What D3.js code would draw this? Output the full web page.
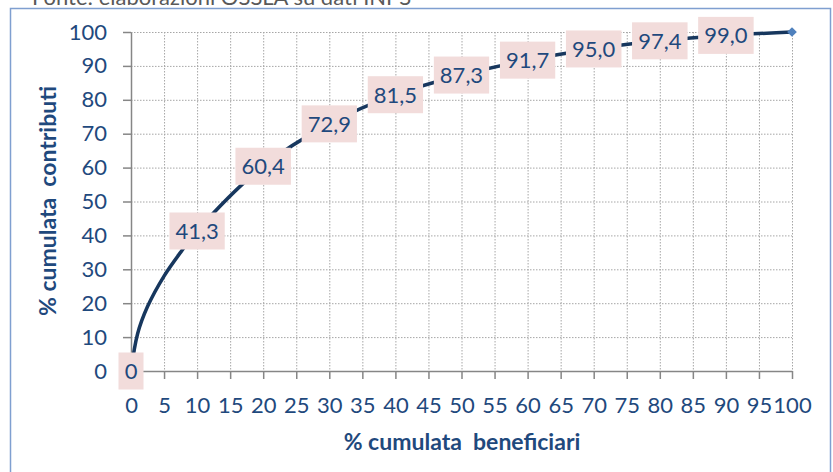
<!DOCTYPE html>
<html>
<head>
<meta charset="utf-8">
<script src="https://cdn.jsdelivr.net/npm/d3@7"></script>
<style>
  body { margin: 0; background: #fff; }
  svg { display: block; font-family: Lato, "Open Sans", sans-serif; }
</style>
</head>
<body>
<div id="chart"></div>
<script>
// % cumulata beneficiari (x) and % cumulata contributi (y)
const beneficiari = [0, 1, 2.5, 5, 7.5, 10, 20, 30, 40, 50, 60, 70, 80, 90, 100];
const contributi = [0, 11, 19, 28, 35, 41.3, 60.4, 72.9, 81.5, 87.3, 91.7, 95.0, 97.4, 99.0, 100];
// points that carry a data label
const labelledX = [0, 10, 20, 30, 40, 50, 60, 70, 80, 90];
const xTicks = d3.range(0, 101, 5);
const yTicks = d3.range(0, 101, 10);

const width = 833, height = 472;
const textColor = "#1F497D";

const svg = d3.select("#chart").append("svg")
  .attr("width", width)
  .attr("height", height);

// outer frame
svg.append("rect")
  .attr("x", 10.5).attr("y", 8.5)
  .attr("width", 820).attr("height", 480)
  .attr("fill", "none")
  .attr("stroke", "#7f9fd0")
  .attr("stroke-width", 1.5);

// source line, cut by the top edge as in the original
svg.append("text")
  .attr("x", 32).attr("y", 5)
  .attr("fill", "#595959")
  .attr("font-size", 22)
  .text("Fonte: elaborazioni OSSLA su dati INPS");

const x = d3.scaleLinear().domain([0, 100]).range([131, 792]);
const y = d3.scaleLinear().domain([0, 100]).range([371, 32]);

// gridlines
const grid = svg.append("g")
  .attr("stroke", "#a6a6a6")
  .attr("stroke-width", 1)
  .attr("stroke-dasharray", "1.5,1.5");

grid.selectAll(".vgrid")
  .data(xTicks.filter(d => d > 0))
  .join("line")
  .attr("x1", d => x(d) + 0.5).attr("x2", d => x(d) + 0.5)
  .attr("y1", y(100)).attr("y2", y(0));

grid.selectAll(".hgrid")
  .data(yTicks.filter(d => d > 0))
  .join("line")
  .attr("x1", x(0)).attr("x2", x(100))
  .attr("y1", d => y(d) + 0.5).attr("y2", d => y(d) + 0.5);

// axes
const xAxis = d3.axisBottom(x)
  .tickValues(xTicks)
  .tickSize(8)
  .tickSizeOuter(0)
  .tickPadding(18)
  .tickFormat(d3.format("d"));

const yAxis = d3.axisLeft(y)
  .tickValues(yTicks)
  .tickSize(8)
  .tickSizeOuter(0)
  .tickPadding(16)
  .tickFormat(d3.format("d"));

function styleAxis(g) {
  g.select(".domain").attr("stroke", "#868686").attr("stroke-width", 1.5);
  g.selectAll(".tick line").attr("stroke", "#868686").attr("stroke-width", 1.5);
  g.selectAll(".tick text")
    .attr("fill", textColor)
    .attr("font-size", 22)
    .attr("font-family", "Lato, 'Open Sans', sans-serif");
}

svg.append("g")
  .attr("transform", `translate(0,${y(0)})`)
  .call(xAxis)
  .call(styleAxis);

svg.append("g")
  .attr("transform", `translate(${x(0)},0)`)
  .call(yAxis)
  .call(styleAxis);

// axis titles
svg.append("text")
  .attr("x", 462).attr("y", 450)
  .attr("text-anchor", "middle")
  .attr("fill", textColor)
  .attr("font-size", 23)
  .attr("font-weight", "bold")
  .attr("xml:space", "preserve")
  .text("% cumulata  beneficiari");

svg.append("text")
  .attr("transform", "translate(56,201) rotate(-90)")
  .attr("text-anchor", "middle")
  .attr("fill", textColor)
  .attr("font-size", 23)
  .attr("font-weight", "bold")
  .attr("xml:space", "preserve")
  .text("% cumulata  contributi");

// curve
const points = beneficiari.map((b, i) => [b, contributi[i]]);
const line = d3.line()
  .x(d => x(d[0]))
  .y(d => y(d[1]))
  .curve(d3.curveCatmullRom.alpha(0.5));

svg.append("path")
  .datum(points)
  .attr("d", line)
  .attr("fill", "none")
  .attr("stroke", "#17375E")
  .attr("stroke-width", 3.5)
  .attr("stroke-linecap", "round");

// last point marker (diamond)
const last = points[points.length - 1];
svg.append("path")
  .attr("d", d3.symbol(d3.symbolDiamond2, 60)())
  .attr("transform", `translate(${x(last[0])},${y(last[1])})`)
  .attr("fill", "#4F81BD");

// data labels
const fmt = v => v === 0 ? "0" : v.toFixed(1).replace(".", ",");
const labelled = points.filter(d => labelledX.includes(d[0]));

const labels = svg.selectAll(".dlabel")
  .data(labelled)
  .join("g")
  .attr("class", "dlabel")
  .attr("transform", d => `translate(${x(d[0])},${y(d[1])})`);

labels.append("rect").attr("fill", "#F2DCDB");

labels.append("text")
  .attr("text-anchor", "middle")
  .attr("dy", "0.36em")
  .attr("fill", textColor)
  .attr("font-size", 22)
  .text(d => fmt(d[1]));

labels.each(function () {
  const g = d3.select(this);
  const bb = g.select("text").node().getBBox();
  g.select("rect")
    .attr("x", -bb.width / 2 - 6)
    .attr("y", -18.5)
    .attr("width", bb.width + 12)
    .attr("height", 37);
});
</script>
</body>
</html>
